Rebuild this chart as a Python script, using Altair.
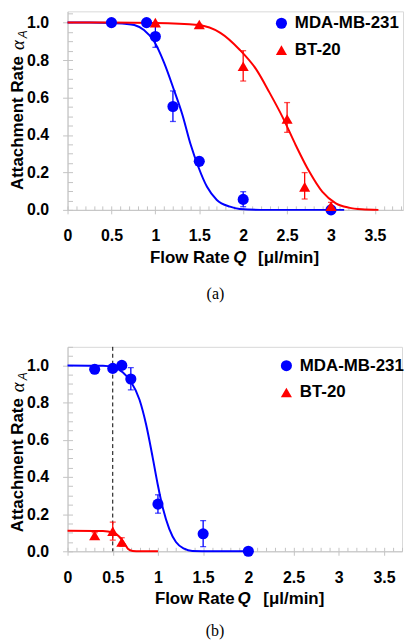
import altair as alt
import pandas as pd

SERIES = ["MDA-MB-231", "BT-20"]
COLORS = ["#0000ff", "#ff0000"]
SHAPES = ["circle", "triangle-up"]

# ---------------- panel (a) ----------------
a_mda_q = [0.5, 0.9, 1.0, 1.2, 1.5, 2.0, 3.0]
a_mda_v = [1.0, 1.0, 0.926, 0.552, 0.259, 0.056, 0.0]
a_mda_lo = [1.0, 1.0, 0.868, 0.472, 0.240, 0.017, 0.0]
a_mda_hi = [1.0, 1.0, 0.984, 0.635, 0.280, 0.097, 0.0]
a_bt_q = [1.0, 1.5, 2.0, 2.5, 2.7, 3.0]
a_bt_v = [1.0, 0.99, 0.767, 0.485, 0.123, 0.020]
a_bt_lo = [1.0, 0.99, 0.688, 0.414, 0.058, 0.0]
a_bt_hi = [1.0, 0.99, 0.850, 0.573, 0.199, 0.040]

a_fit_mda_q = [0, 0.25, 0.5, 0.65, 0.76, 0.87, 0.985, 1.10, 1.21, 1.306, 1.40, 1.49, 1.588, 1.70, 1.85, 1.96, 2.2, 3.15]
a_fit_mda_v = [1.0, 1.0, 0.998, 0.994, 0.987, 0.961, 0.90, 0.785, 0.643, 0.511, 0.352, 0.229, 0.123, 0.053, 0.017, 0.005, 0.0, 0.0]
a_fit_bt_q = [0, 0.5, 1.0, 1.49, 1.74, 1.96, 2.15, 2.30, 2.45, 2.60, 2.754, 2.90, 3.055, 3.2, 3.35, 3.54]
a_fit_bt_v = [1.0, 1.0, 0.998, 0.987, 0.945, 0.855, 0.749, 0.626, 0.494, 0.344, 0.203, 0.097, 0.035, 0.012, 0.003, 0.0]

# ---------------- panel (b) ----------------
b_mda_q = [0.3, 0.5, 0.6, 0.7, 1.0, 1.5, 2.0]
b_mda_v = [0.979, 0.984, 1.0, 0.927, 0.254, 0.094, 0.0]
b_mda_lo = [0.979, 0.984, 1.0, 0.868, 0.205, 0.025, 0.0]
b_mda_hi = [0.979, 0.984, 1.0, 0.988, 0.304, 0.165, 0.0]
b_bt_q = [0.3, 0.5, 0.6]
b_bt_v = [0.085, 0.108, 0.050]
b_bt_lo = [0.070, 0.060, 0.027]
b_bt_hi = [0.100, 0.157, 0.073]

b_fit_mda_q = [0, 0.392, 0.5, 0.61, 0.70, 0.796, 0.869, 0.942, 0.997, 1.052, 1.125, 1.199, 1.29, 1.38, 1.6, 2.0]
b_fit_mda_v = [1.0, 0.998, 0.991, 0.963, 0.913, 0.815, 0.682, 0.504, 0.361, 0.237, 0.121, 0.050, 0.014, 0.002, 0.0, 0.0]
b_fit_bt_q = [0, 0.392, 0.5, 0.576, 0.63, 0.667, 0.72, 0.8, 1.0]
b_fit_bt_v = [0.110, 0.109, 0.101, 0.077, 0.041, 0.014, 0.002, 0.0, 0.0]
b_vline_q = [0.5]

x_major = [0, 0.5, 1, 1.5, 2, 2.5, 3, 3.5]
y_major = [0, 0.2, 0.4, 0.6, 0.8, 1.0]

SANS = "Liberation Sans"
SERIF = "Liberation Serif"
AXC = "#c4c4c4"


def pts_df(series, q, v, lo, hi):
    return pd.DataFrame({"series": series, "q": q, "a": v, "lo": lo, "hi": hi})


def crv_df(q, v):
    return pd.DataFrame({"q": q, "a": v, "i": list(range(len(q)))})


def txt(text, x, y, size, weight="bold", style="normal", font=SANS, angle=0, baseline="alphabetic"):
    return alt.Chart(pd.DataFrame({"t": [text]})).mark_text(
        align="left", baseline=baseline, fontSize=size, fontWeight=weight,
        fontStyle=style, font=font, angle=angle, color="black"
    ).encode(x=alt.value(x), y=alt.value(y), text="t:N")


def panel(pts_list, crv_list, xmax, ymax, width, height, leg_x, leg_y,
          yt_x, yt_y0, yt_a, yt_sub, xt_y, xt_x, caption, cap_off, vline=None):
    xs = alt.Scale(domain=[0, xmax], nice=False, zero=False)
    ys = alt.Scale(domain=[0, ymax], nice=False, zero=False)
    cs = alt.Scale(domain=SERIES, range=COLORS)
    ss = alt.Scale(domain=SERIES, range=SHAPES)
    x_minor = [round(i * 0.1, 1) for i in range(int(xmax * 10) + 1)]
    y_minor = [round(i * 0.05, 2) for i in range(int(ymax * 20 + 1e-9) + 1)]

    main_x = alt.Axis(values=x_major, format="~g", orient="bottom", tickSize=4,
                      tickColor=AXC, domainColor=AXC, labelFont=SANS, labelFontSize=16,
                      labelFontWeight="bold", labelColor="black", labelPadding=14,
                      title=None, grid=False, labelFlush=False, labelOverlap=False)
    main_y = alt.Axis(values=y_major, format=".1f", orient="left", tickSize=5,
                      tickColor=AXC, domainColor=AXC, labelFont=SANS, labelFontSize=16,
                      labelFontWeight="bold", labelColor="black", labelPadding=14,
                      title=None, grid=False, labelOverlap=False)
    in_x = alt.Axis(values=x_minor, orient="bottom", offset=-4, tickSize=4, tickColor=AXC,
                    labels=False, domain=False, grid=False, title=None)
    in_y = alt.Axis(values=y_minor, orient="left", offset=-5, tickSize=5, tickColor=AXC,
                    labels=False, domain=False, grid=False, title=None)

    layers = []
    if vline is not None:
        layers.append(alt.Chart(pd.DataFrame({"q": vline})).mark_rule(
            color="black", strokeWidth=1, strokeDash=[4, 3]).encode(
            x=alt.X("q:Q", scale=xs, axis=None)))
    # fitted curves (first one carries the main axes)
    for k, (crv, col) in enumerate(zip(crv_list, COLORS)):
        layers.append(alt.Chart(crv).mark_line(strokeWidth=2, interpolate="monotone", color=col).encode(
            x=alt.X("q:Q", scale=xs, axis=main_x if k == 0 else None),
            y=alt.Y("a:Q", scale=ys, axis=main_y if k == 0 else None),
            order="i:Q",
        ))
    # error bars with caps
    for pts, col in zip(pts_list, COLORS):
        base = alt.Chart(pts)
        layers.append(base.mark_rule(strokeWidth=1.3, color=col).encode(
            x=alt.X("q:Q", scale=xs, axis=None),
            y=alt.Y("lo:Q", scale=ys, axis=None), y2="hi:Q"))
        layers.append(base.transform_fold(["lo", "hi"], as_=["k", "v"]).mark_tick(
            orient="horizontal", size=6, thickness=1.3, color=col).encode(
            x=alt.X("q:Q", scale=xs, axis=None),
            y=alt.Y("v:Q", scale=ys, axis=None)))
    leg = alt.Legend(orient="none", legendX=leg_x, legendY=leg_y, title=None,
                     labelFont=SANS, labelFontSize=17, labelFontWeight="bold",
                     labelColor="black", symbolSize=125, rowPadding=9, labelOffset=5,
                     padding=0, symbolStrokeWidth=0, direction="vertical")
    allpts = pd.concat(pts_list, ignore_index=True)
    layers.append(alt.Chart(allpts).mark_point(filled=True, size=125, opacity=1).encode(
        x=alt.X("q:Q", scale=xs, axis=in_x),
        y=alt.Y("a:Q", scale=ys, axis=in_y),
        color=alt.Color("series:N", scale=cs, legend=leg),
        shape=alt.Shape("series:N", scale=ss, legend=leg),
    ))
    titles = [
        txt("Attachment Rate", yt_x, yt_y0, 17, angle=270, baseline="middle"),
        txt("\u03b1", yt_x, yt_a, 19, weight="normal", style="italic", font=SERIF, angle=270, baseline="middle"),
        txt("A", yt_x + 5, yt_sub, 12, weight="normal", style="italic", font=SANS, angle=270, baseline="middle"),
        txt("Flow Rate", xt_x[0], xt_y, 17),
        txt("Q", xt_x[1], xt_y, 17, style="italic"),
        txt("[\u03bcl/min]", xt_x[2], xt_y, 17),
    ]
    return alt.layer(*layers, *titles).resolve_axis(
        x="independent", y="independent"
    ).properties(
        width=width, height=height,
        title=alt.TitleParams(text=caption, orient="bottom", font=SERIF, fontSize=16,
                              fontWeight="normal", color="black", anchor="middle",
                              frame="group", dx=-20, offset=cap_off),
    )


top = panel([pts_df(SERIES[0], a_mda_q, a_mda_v, a_mda_lo, a_mda_hi),
             pts_df(SERIES[1], a_bt_q, a_bt_v, a_bt_lo, a_bt_hi)],
            [crv_df(a_fit_mda_q, a_fit_mda_v), crv_df(a_fit_bt_q, a_fit_bt_v)],
            xmax=3.82, ymax=1.06, width=338, height=200,
            leg_x=207, leg_y=3.5,
            yt_x=-49.5, yt_y0=180, yt_a=39, yt_sub=27,
            xt_y=254, xt_x=[83, 167, 192], caption="(a)", cap_off=20)

bottom = panel([pts_df(SERIES[0], b_mda_q, b_mda_v, b_mda_lo, b_mda_hi),
                pts_df(SERIES[1], b_bt_q, b_bt_v, b_bt_lo, b_bt_hi)],
               [crv_df(b_fit_mda_q, b_fit_mda_v), crv_df(b_fit_bt_q, b_fit_bt_v)],
               xmax=3.7, ymax=1.1, width=337, height=206,
               leg_x=212, leg_y=10.5,
               yt_x=-49.5, yt_y0=186.7, yt_a=45.7, yt_sub=33.7,
               xt_y=259.3, xt_x=[88, 171.3, 197.3], caption="(b)", cap_off=16,
               vline=b_vline_q)

chart = alt.vconcat(top, bottom, spacing=43).resolve_scale(
    color="independent", shape="independent"
).properties(padding=0).configure_view(stroke="#d9d9d9", strokeWidth=1)

chart.save("out.html", embed_options={"renderer": "svg", "actions": False})
